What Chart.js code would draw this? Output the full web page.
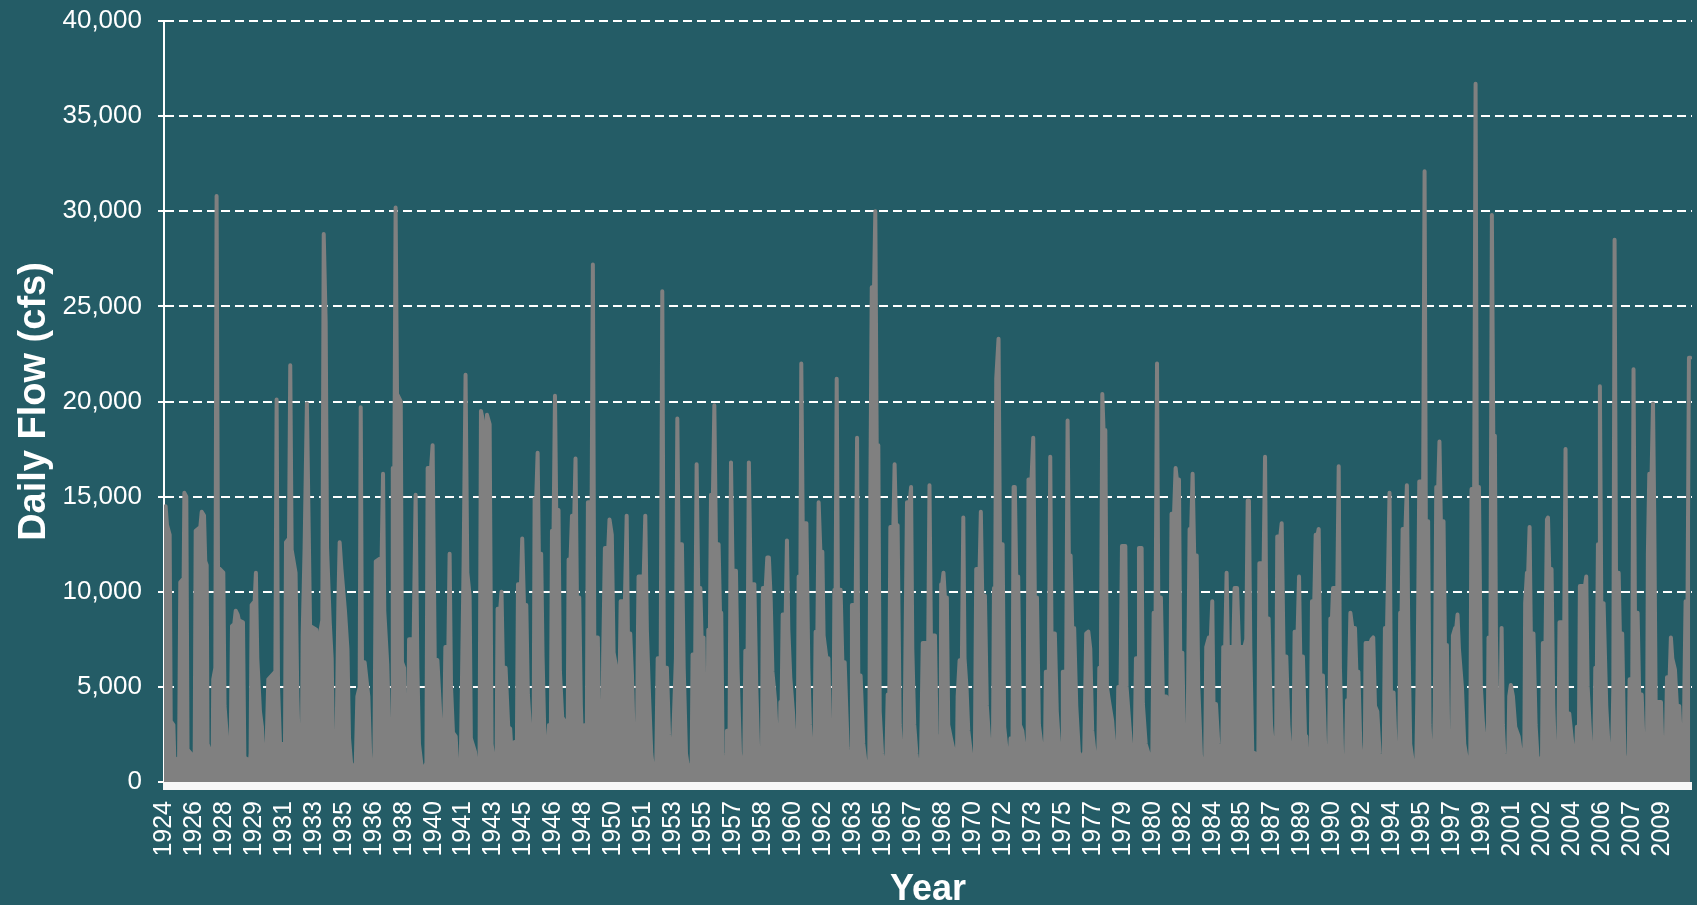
<!DOCTYPE html>
<html>
<head>
<meta charset="utf-8">
<script src="https://cdn.jsdelivr.net/npm/chart.js@4.4.0/dist/chart.umd.min.js"></script>
<style>
html,body{margin:0;padding:0;background:#245c66;overflow:hidden;}
#wrap{width:1697px;height:905px;position:relative;}
</style>
</head>
<body>
<div id="wrap"><canvas id="c" width="1697" height="905"></canvas></div>
<script>
// x-axis tick labels (as printed on the chart)
const tickLabels = ["1924","1926","1928","1929","1931","1933","1935","1936","1938","1940","1941","1943","1945","1946","1948","1950","1951","1953","1955","1957","1958","1960","1962","1963","1965","1967","1968","1970","1972","1973","1975","1977","1979","1980","1982","1984","1985","1987","1989","1990","1992","1994","1995","1997","1999","2001","2002","2004","2006","2007","2009"];

// daily flow (cfs), [decimal year, flow]
const flow1924 = [[1924.90,1500],[1924.99,14500],[1925.07,13500],[1925.22,13000],[1925.28,3200],[1925.43,3000],[1925.48,1300],[1925.58,1200],[1925.65,400],
[1925.75,1000],[1925.82,10500],[1926.01,10700],[1926.05,15200],[1926.16,15000],[1926.23,1700],[1926.42,1500],[1926.54,400],
[1926.63,1000],[1926.69,13200],[1926.95,13400],[1927.03,14200],[1927.16,14000],[1927.23,11600],[1927.31,11400],[1927.36,2000],[1927.50,1600],[1927.59,400],
[1927.65,1200],[1927.68,5400],[1927.80,6000],[1927.87,30800],[1927.95,11300],[1928.25,11000],[1928.32,4000],[1928.44,2500],[1928.57,400],
[1928.66,1500],[1928.74,8200],[1928.87,8300],[1928.95,9000],[1929.06,8800],[1929.13,8500],[1929.36,8400],[1929.44,1300],[1929.59,1200],[1929.70,400],
[1929.79,1500],[1929.85,9300],[1930.02,9500],[1930.09,11000],[1930.17,6500],[1930.32,3700],[1930.43,2900],[1930.55,500],
[1930.66,600],[1930.79,5400],[1931.19,5800],[1931.26,20100],[1931.34,5000],[1931.45,2100],[1931.60,2000],[1931.68,400],
[1931.73,1500],[1931.79,12600],[1931.96,12800],[1932.03,21900],[1932.11,12200],[1932.33,11000],[1932.43,4500],[1932.52,1500],[1932.62,300],
[1932.69,1500],[1932.73,7700],[1932.84,12300],[1932.97,19900]];

const flow1933 = [[1933.15,8200],[1933.50,8000],[1933.58,1500],[1933.66,1300],[1933.71,7800],[1933.84,8500],[1933.92,28800],[1934.03,24200],[1934.11,12300],[1934.26,8400],[1934.37,6500],[1934.45,1400],[1934.56,300],
[1934.63,1000],[1934.75,9500],[1934.82,12600],[1934.92,11200],[1935.12,9000],[1935.26,7000],[1935.35,2300],[1935.50,600],
[1935.73,1000],[1935.82,4500],[1935.95,5000],[1936.01,19700],[1936.08,6300],[1936.23,6300],[1936.44,4500],[1936.54,1500],[1936.61,500],
[1936.78,800],[1936.86,11600],[1937.19,11800],[1937.27,16200],[1937.34,9000],[1937.51,6200],[1937.65,1500],[1937.72,500],
[1937.78,1000],[1937.82,16500],[1937.91,16500],[1937.98,30200],[1938.06,20400],[1938.27,20000],[1938.34,6300],[1938.46,6000],[1938.55,1500],[1938.62,400],
[1938.68,1000],[1938.74,7500],[1939.00,7500],[1939.11,15100],[1939.21,6000],[1939.30,2000],[1939.49,500],
[1939.72,1000],[1939.79,16500],[1939.98,16500],[1940.07,17700],[1940.19,6500],[1940.34,6400],[1940.47,4100],[1940.58,2000],[1940.66,400],
[1940.71,1500],[1940.79,7100],[1940.96,7100],[1941.03,12000],[1941.11,5000],[1941.22,2600],[1941.37,2400],[1941.49,400],
[1941.66,1000],[1941.75,6800]];

const flow1941 = [[1941.82,11500],[1941.93,21400],[1942.03,11000],[1942.16,9800],[1942.23,2300],[1942.46,1600],[1942.61,400],
[1942.72,1000],[1942.80,19500],[1942.91,19000],[1943.02,8000],[1943.14,19300],[1943.29,18800],[1943.40,2000],[1943.51,1200],[1943.63,400],
[1943.68,1000],[1943.74,9100],[1943.89,9100],[1943.96,10000],[1944.04,6000],[1944.19,6000],[1944.34,2900],[1944.45,2800],[1944.60,400],
[1944.70,2100],[1944.83,2100],[1944.89,10400],[1945.06,10400],[1945.13,12800],[1945.23,9300],[1945.36,9300],[1945.45,4600],[1945.60,2400],[1945.70,2400],
[1945.77,1000],[1945.83,14900],[1945.92,14900],[1946.00,17300],[1946.07,12000],[1946.20,12000],[1946.28,6600],[1946.37,2900],[1946.49,1200],
[1946.58,800],[1946.64,3000],[1946.75,3000],[1946.81,13200],[1946.90,13200],[1946.98,20300],[1947.05,14300],[1947.18,14300],[1947.26,5800],[1947.39,3400],[1947.52,3200],[1947.63,400],
[1947.69,1000],[1947.75,11700],[1947.86,11700],[1947.94,14000],[1948.07,14000],[1948.14,17000],[1948.22,9700],[1948.35,9700],[1948.44,4100],[1948.56,400],
[1948.61,1000],[1948.67,3000],[1948.78,3000],[1948.84,14700],[1949.05,14700],[1949.12,27200],[1949.20,7600],[1949.40,7600],[1949.50,1500],[1949.59,400],
[1949.65,1000],[1949.70,6500],[1949.80,12300],[1949.99,12300],[1950.06,13800],[1950.19,13000],[1950.29,6800]];

const flow1950 = [[1950.54,5500],[1950.63,5400],[1950.69,9500],[1950.93,9500],[1951.03,14000],[1951.10,7800],[1951.23,7800],[1951.33,5600],[1951.42,2400],[1951.53,400],
[1951.61,1000],[1951.65,6500],[1951.70,10800],[1951.99,10800],[1952.08,14000],[1952.17,8000],[1952.29,4600],[1952.42,1500],[1952.55,400],
[1952.70,1000],[1952.78,6500],[1952.95,6500],[1953.04,25800],[1953.13,6000],[1953.30,6000],[1953.42,2500],[1953.57,400],
[1953.64,1900],[1953.81,6500],[1953.89,19100],[1953.96,12500],[1954.15,12500],[1954.25,6000],[1954.38,1500],[1954.55,400],
[1954.70,1000],[1954.75,6700],[1954.90,6700],[1954.98,16700],[1955.07,10200],[1955.19,10200],[1955.26,7600],[1955.37,7600],[1955.45,1500],[1955.53,400],
[1955.58,1000],[1955.64,8000],[1955.73,8000],[1955.79,15100],[1955.90,15100],[1955.98,19800],[1956.07,12500],[1956.22,12500],[1956.30,8900],[1956.37,8900],[1956.45,1500],[1956.58,400],
[1956.64,1000],[1956.69,2700],[1956.84,2700],[1956.92,16800],[1957.01,11100],[1957.20,11100],[1957.29,6000],[1957.43,1500],[1957.58,400],
[1957.67,1000],[1957.73,6900],[1957.86,6900],[1957.93,16800],[1958.03,10400],[1958.24,10400],[1958.35,5000],[1958.46,1500],[1958.59,400],
[1958.67,1000],[1958.72,10200],[1958.88,10200],[1958.97,11800],[1959.06,11800],[1959.16,9700]];

const flow1959 = [[1959.26,5800],[1959.41,4300],[1959.54,1600],[1959.59,400],
[1959.67,1000],[1959.71,4200],[1959.78,4200],[1959.84,8800],[1960.01,8800],[1960.08,12700],[1960.16,8000],[1960.27,5500],[1960.42,3700],[1960.55,1400],[1960.65,400],
[1960.69,1000],[1960.74,10800],[1960.84,10800],[1960.89,22000],[1960.97,13600],[1961.18,13600],[1961.29,6000],[1961.38,3000],[1961.53,400],
[1961.63,1000],[1961.70,7900],[1961.80,7900],[1961.87,14700],[1961.97,12100],[1962.08,12100],[1962.15,7700],[1962.31,6500],[1962.42,6500],[1962.53,1500],[1962.64,400],
[1962.70,1000],[1962.76,10100],[1962.83,10100],[1962.89,21200],[1962.96,10100],[1963.11,10100],[1963.21,6300],[1963.34,6300],[1963.51,1800],[1963.64,400],
[1963.70,1000],[1963.75,9300],[1963.96,9300],[1964.04,18100],[1964.11,5600],[1964.24,5600],[1964.39,2000],[1964.60,400],
[1964.73,1000],[1964.79,15100],[1964.87,26000],[1965.00,26000],[1965.07,30000],[1965.15,17700],[1965.24,17700],[1965.32,3700],[1965.45,1500],[1965.60,400],
[1965.69,1000],[1965.77,4600],[1965.86,4600],[1965.92,13400],[1966.09,13400],[1966.16,16700],[1966.24,13500],[1966.33,13500],[1966.45,3000],[1966.54,1500],[1966.62,400],
[1966.71,1000],[1966.78,7500],[1966.86,14700],[1967.01,14700],[1967.09,15500],[1967.16,7000],[1967.27,3000],[1967.39,1500],[1967.54,400],
[1967.65,1000],[1967.75,7300],[1967.88,7300]];

const flow1967 = [[1968.06,7300],[1968.13,15600],[1968.21,7700],[1968.44,7700],[1968.53,2500],[1968.66,2200],[1968.70,400],
[1968.76,1000],[1968.79,10400],[1968.85,10400],[1968.92,11000],[1969.00,9700],[1969.11,9700],[1969.19,3000],[1969.34,2300],[1969.53,1500],[1969.62,400],
[1969.68,1000],[1969.72,4500],[1969.83,6400],[1969.96,6400],[1970.04,13900],[1970.11,6500],[1970.22,5000],[1970.32,2700],[1970.47,1500],[1970.60,400],
[1970.69,1000],[1970.77,11200],[1970.96,11200],[1971.03,14200],[1971.11,9800],[1971.26,9800],[1971.37,4000],[1971.52,1900],[1971.64,400],
[1971.71,1000],[1971.77,10200],[1971.84,10200],[1971.90,21200],[1972.03,23300],[1972.11,12500],[1972.26,12500],[1972.35,2900],[1972.50,1500],[1972.58,400],
[1972.65,1000],[1972.71,2300],[1972.82,2300],[1972.88,15500],[1972.95,15500],[1973.03,10800],[1973.14,10800],[1973.24,3000],[1973.37,2700],[1973.52,1500],[1973.63,400],
[1973.67,1000],[1973.72,15900],[1973.89,15900],[1973.99,18100],[1974.08,9700],[1974.20,9700],[1974.31,3000],[1974.46,1900],[1974.59,400],
[1974.65,1000],[1974.70,5800],[1974.87,5800],[1974.95,17100],[1975.02,7800],[1975.21,7800],[1975.32,3700],[1975.44,2000],[1975.59,400],
[1975.63,1000],[1975.66,5800],[1975.85,5800],[1975.93,19000],[1976.00,11900],[1976.10,11900],[1976.19,8100],[1976.30,8100],[1976.42,4000],[1976.57,1500]];

const flow1976 = [[1976.61,1500],[1976.72,700],[1976.80,1300],[1976.87,1600],[1976.98,7800],[1977.10,7900],[1977.21,7000],[1977.32,2700],[1977.47,1400],[1977.61,400],
[1977.66,1000],[1977.72,6000],[1977.81,6000],[1977.89,20400],[1977.96,18500],[1978.06,18500],[1978.15,5000],[1978.26,4300],[1978.45,3200],[1978.58,1500],[1978.68,400],
[1978.74,1000],[1978.79,5000],[1978.92,5000],[1979.00,12400],[1979.19,12400],[1979.26,5000],[1979.39,3400],[1979.54,1500],[1979.64,400],
[1979.71,1000],[1979.79,6500],[1979.92,6500],[1979.96,12300],[1980.11,12300],[1980.18,4100],[1980.34,2000],[1980.50,1500],[1980.58,400],
[1980.71,1000],[1980.79,8900],[1980.90,8900],[1980.98,22000],[1981.05,9700],[1981.20,9700],[1981.31,4500],[1981.50,4500],[1981.62,3900],
[1981.73,3900],[1981.80,14100],[1981.94,14100],[1982.03,16500],[1982.10,15900],[1982.22,15900],[1982.29,6800],[1982.41,6800],[1982.52,1500],[1982.63,400],
[1982.69,1000],[1982.74,5500],[1982.82,13300],[1982.91,13300],[1982.99,16200],[1983.08,11900],[1983.22,11900],[1983.31,5000],[1983.46,1400],[1983.61,400],
[1983.70,1000],[1983.76,7100],[1983.91,7600],[1984.02,7600],[1984.10,9500],[1984.17,4100],[1984.31,4100],[1984.44,2000],[1984.61,400],
[1984.66,1000],[1984.72,7100],[1984.83,7100],[1984.91,11000],[1984.98,7100],[1985.14,7100],[1985.27,5300]];

const flow1985 = [[1985.31,8000],[1985.36,10200],[1985.50,10200],[1985.61,7100],[1985.91,7100],[1986.02,7500],[1986.10,14800],[1986.17,14800],[1986.25,7000],[1986.36,1600],[1986.51,1500],[1986.63,400],
[1986.70,1000],[1986.76,11500],[1987.00,11500],[1987.08,17100],[1987.15,8600],[1987.28,8600],[1987.42,3000],[1987.53,1900],[1987.62,400],
[1987.70,1000],[1987.77,12900],[1987.94,12900],[1988.02,13600],[1988.13,6600],[1988.28,6600],[1988.40,3000],[1988.51,1500],[1988.62,400],
[1988.68,1000],[1988.75,7900],[1988.92,7900],[1989.00,10800],[1989.07,6600],[1989.22,6600],[1989.34,2400],[1989.41,2400],[1989.51,400],
[1989.66,1000],[1989.73,9500],[1989.86,9500],[1989.94,13000],[1990.05,13000],[1990.11,13300],[1990.20,5600],[1990.35,5600],[1990.47,2000],[1990.56,1500],[1990.64,400],
[1990.69,1000],[1990.77,8600],[1990.86,8600],[1990.92,10200],[1991.16,10200],[1991.24,16600],[1991.31,6000],[1991.43,1500],[1991.58,400],
[1991.65,1000],[1991.71,4300],[1991.80,4300],[1991.90,8900],[1992.01,8100],[1992.16,8100],[1992.24,5800],[1992.35,5800],[1992.46,2000],[1992.61,400],
[1992.71,1000],[1992.76,7300],[1993.03,7300],[1993.10,7500],[1993.19,7600],[1993.29,4000],[1993.42,3700],[1993.55,1500],[1993.70,400],
[1993.78,1000],[1993.85,8100],[1993.97,8100]];

const flow1994 = [[1994.11,15200],[1994.19,4700],[1994.34,4700],[1994.47,1400],[1994.60,400],
[1994.66,1000],[1994.71,8900],[1994.79,8900],[1994.85,13300],[1995.01,13300],[1995.09,15600],[1995.17,8000],[1995.28,2000],[1995.37,1400],[1995.50,400],
[1995.62,1000],[1995.69,5000],[1995.79,15800],[1996.01,15800],[1996.09,32100],[1996.16,13700],[1996.29,13700],[1996.37,3000],[1996.45,1400],[1996.56,400],
[1996.61,1000],[1996.67,4000],[1996.75,15500],[1996.86,15500],[1996.93,17900],[1997.01,13700],[1997.16,13700],[1997.24,7200],[1997.35,7200],[1997.44,1400],[1997.54,400],
[1997.63,1000],[1997.69,7700],[1997.82,8100],[1997.88,8100],[1997.95,8800],[1998.03,7000],[1998.20,5000],[1998.33,2000],[1998.44,1400],[1998.57,400],
[1998.67,1000],[1998.74,15400],[1998.89,15400],[1998.97,36700],[1999.04,15500],[1999.16,15500],[1999.27,5000],[1999.38,3200],[1999.49,2000],[1999.59,400],
[1999.65,1000],[1999.70,7600],[1999.81,7600],[1999.89,29800],[1999.97,18200],[2000.06,18200],[2000.12,7700],[2000.19,4000],[2000.29,1500],
[2000.36,1500],[2000.44,8100],[2000.51,3000],[2000.59,1500],[2000.70,400],
[2000.81,1000],[2000.87,4500],[2000.96,5100],[2001.08,4500],[2001.21,2900],[2001.40,2400],[2001.55,1400],[2001.68,400],
[2001.72,1000],[2001.77,9400],[2001.87,11000],[2001.94,11000],[2002.02,13400],[2002.09,7800],[2002.24,7800],[2002.36,3000],[2002.47,1300],[2002.62,1200]];

const flow2002 = [[2002.72,1000],[2002.77,7300],[2002.92,7300],[2003.00,13800],[2003.06,13900],[2003.13,11200],[2003.26,11200],[2003.36,4000],[2003.45,1500],[2003.56,400],
[2003.64,1000],[2003.71,8400],[2003.98,8400],[2004.05,17500],[2004.13,3600],[2004.26,3600],[2004.39,2400],[2004.51,1400],[2004.60,400],
[2004.64,1000],[2004.69,2900],[2004.81,2900],[2004.86,10300],[2005.15,10300],[2005.22,10800],[2005.30,5000],[2005.41,3000],[2005.50,1400],[2005.60,400],
[2005.67,1000],[2005.73,6000],[2005.82,6000],[2005.88,12500],[2005.94,12500],[2005.99,20800],[2006.07,9400],[2006.20,9400],[2006.35,4000],[2006.50,1500],[2006.61,400],
[2006.67,1000],[2006.75,5000],[2006.82,28500],[2006.90,11000],[2007.05,11000],[2007.12,7800],[2007.25,7800],[2007.37,1500],[2007.50,400],
[2007.61,1000],[2007.67,5400],[2007.82,5400],[2007.89,21700],[2007.97,8900],[2008.12,8900],[2008.21,4600],[2008.35,4600],[2008.48,1400],
[2008.55,600],[2008.65,1000],[2008.70,12000],[2008.78,16200],[2008.91,16200],[2008.99,19900],[2009.06,14000],[2009.14,4200],[2009.44,4200],[2009.53,1400],[2009.63,400],
[2009.70,1000],[2009.78,5500],[2009.93,5500],[2010.00,7600],[2010.08,6500],[2010.23,5900],[2010.34,4000],[2010.47,4000],[2010.60,1400],[2010.68,400],
[2010.72,1000],[2010.77,5500],[2010.83,9500],[2010.94,9500],[2011.02,22300],[2011.09,22300]];

const X_START = 1924.9;   // first labelled position
const X_STEP = 1.692;     // years between printed labels

const points = [].concat(flow1924, flow1933, flow1941, flow1950, flow1959, flow1967, flow1976, flow1985, flow1994, flow2002)
  .map(p => ({x: p[0], y: p[1]}));

const FONT = "'Liberation Sans', Arial, sans-serif";

const axisBand = {
  id: 'axisBand',
  afterDatasetsDraw(chart) {
    const {ctx, chartArea} = chart;
    ctx.save();
    ctx.fillStyle = '#f7f7f7';
    ctx.fillRect(chartArea.left - 1, chartArea.bottom, chartArea.right - chartArea.left + 1, 8);
    ctx.restore();
  }
};

new Chart(document.getElementById('c'), {
  type: 'line',
  data: {
    datasets: [{
      data: points,
      borderColor: '#808080',
      backgroundColor: '#808080',
      borderWidth: 4,
      borderJoinStyle: 'round',
      borderCapStyle: 'round',
      pointRadius: 0,
      tension: 0,
      fill: 'origin'
    }]
  },
  options: {
    responsive: false,
    animation: false,
    devicePixelRatio: 1,
    layout: { padding: { top: 21, right: 5, left: 0, bottom: 0 } },
    plugins: { legend: { display: false }, tooltip: { enabled: false } },
    scales: {
      x: {
        type: 'linear',
        min: X_START,
        max: X_START + 51 * X_STEP,
        afterBuildTicks: s => { s.ticks = tickLabels.map((_, i) => ({ value: X_START + i * X_STEP })); },
        afterFit: s => { s.height = 123; s.paddingLeft = 0; s.paddingRight = 0; },
        grid: { display: false, drawTicks: false },
        border: { display: false },
        ticks: {
          autoSkip: false,
          minRotation: 90,
          maxRotation: 90,
          padding: 19,
          color: '#ffffff',
          font: { family: FONT, size: 25 },
          callback: (v, i) => tickLabels[i]
        },
        title: {
          display: true,
          text: 'Year',
          color: '#ffffff',
          font: { family: FONT, size: 36, weight: 'bold' },
          padding: { top: 0, bottom: -7 }
        }
      },
      y: {
        min: 0,
        max: 40000,
        z: 1,
        afterFit: s => { s.width = 164; s.paddingTop = 0; s.paddingBottom = 0; },
        grid: {
          color: c => (c.tick && c.tick.value === 0) ? 'rgba(0,0,0,0)' : '#ffffff',
          lineWidth: 2,
          drawTicks: true,
          tickLength: 6,
          tickColor: '#ffffff',
          tickWidth: 2,
          tickBorderDash: []
        },
        border: { display: true, color: '#ffffff', width: 2, dash: [9, 5] },
        ticks: {
          stepSize: 5000,
          padding: 16,
          color: '#ffffff',
          font: { family: FONT, size: 26 },
          callback: v => v.toLocaleString('en-US')
        },
        title: {
          display: true,
          text: 'Daily Flow (cfs)',
          color: '#ffffff',
          font: { family: FONT, size: 38, weight: 'bold' },
          padding: { top: 12, bottom: 0 }
        }
      }
    }
  },
  plugins: [axisBand]
});
</script>
</body>
</html>
